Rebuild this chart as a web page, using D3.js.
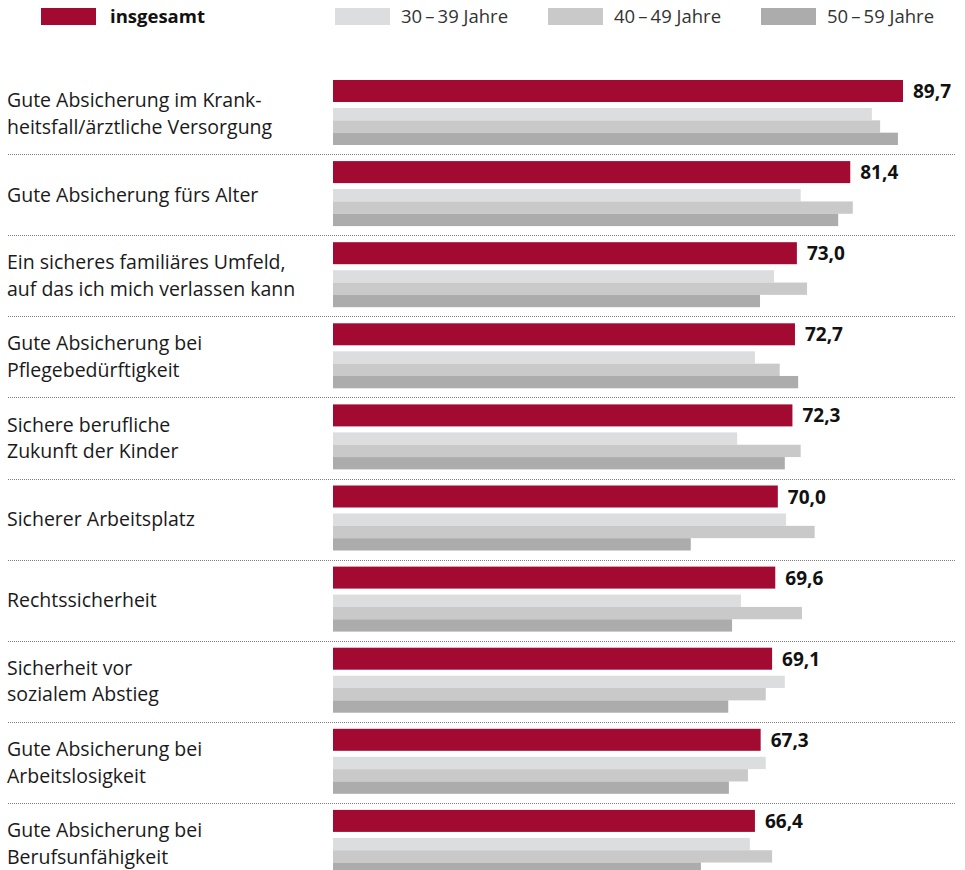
<!DOCTYPE html>
<html lang="de">
<head>
<meta charset="UTF-8">
<title>Absicherung</title>
<script src="https://cdn.jsdelivr.net/npm/d3@7"></script>
<style>
	body { margin: 0; background: #fff; font-family: "Open Sans", sans-serif; }
	.label { font-size: 19.5px; fill: #1a1a1a }
	.value { font-size: 19px; font-weight: bold; fill: #111 }
	.legend text { font-size: 18.5px; fill: #333 }
	.sep { stroke: #808080; stroke-width: 1px; stroke-dasharray: 1,1 }
</style>
</head>
<body>
<script>

var categories = [
	'Gute Absicherung im Krank-\nheitsfall/ärztliche Versorgung',
	'Gute Absicherung fürs Alter',
	'Ein sicheres familiäres Umfeld,\nauf das ich mich verlassen kann',
	'Gute Absicherung bei\nPflegebedürftigkeit',
	'Sichere berufliche\nZukunft der Kinder',
	'Sicherer Arbeitsplatz',
	'Rechtssicherheit',
	'Sicherheit vor\nsozialem Abstieg',
	'Gute Absicherung bei\nArbeitslosigkeit',
	'Gute Absicherung bei\nBerufsunfähigkeit'
];
var total   = [89.7, 81.4, 73.0, 72.7, 72.3, 70.0, 69.6, 69.1, 67.3, 66.4];
var age3039 = [84.8, 73.6, 69.4, 66.4, 63.6, 71.3, 64.2, 71.1, 68.1, 65.6];
var age4049 = [86.1, 81.8, 74.6, 70.3, 73.6, 75.8, 73.8, 68.1, 65.3, 69.1];
var age5059 = [88.9, 79.5, 67.2, 73.2, 71.1, 56.3, 62.8, 62.2, 62.3, 57.9];
var groups = ['30\u2009–\u200939 Jahre', '40\u2009–\u200949 Jahre', '50\u2009–\u200959 Jahre'];
var legendLabels = ['insgesamt'].concat(groups);

var red = '#a30a32';
var grays = ['#dcdddf', '#c9c9c9', '#acacac'];

var width = 965, height = 870;
var svg = d3.select('body').append('svg')
	.attr('width', width)
	.attr('height', height);

var x = d3.scaleLinear().domain([0, 89.7]).range([333, 903]);
var y = d3.scaleBand().domain(d3.range(categories.length)).range([73, 73 + 81.1 * categories.length]);
var sub = d3.scaleBand().domain(d3.range(groups.length)).range([35, 72]);
var fmt = v => d3.format('.1f')(v).replace('.', ',');

var rows = categories.map((c, i) => ({
	label: c, total: total[i], ages: [age3039[i], age4049[i], age5059[i]], i: i
}));

// separators
svg.selectAll('.sep')
	.data(rows.filter(d => d.i > 0))
	.enter().append('line')
	.attr('class', 'sep')
	.attr('x1', 8).attr('x2', 956)
	.attr('y1', d => Math.round(y(d.i)) + 0.5)
	.attr('y2', d => Math.round(y(d.i)) + 0.5);

var row = svg.selectAll('.row')
	.data(rows)
	.enter().append('g')
	.attr('class', 'row')
	.attr('transform', d => 'translate(0,' + y(d.i) + ')');

row.append('rect')
	.attr('x', x(0))
	.attr('y', 7)
	.attr('height', 22)
	.attr('width', d => x(d.total) - x(0))
	.style('fill', red);

row.selectAll('.age')
	.data(d => d.ages)
	.enter().append('rect')
	.attr('class', 'age')
	.attr('x', x(0))
	.attr('y', (v, j) => sub(j))
	.attr('height', sub.bandwidth())
	.attr('width', v => x(v) - x(0))
	.style('fill', (v, j) => grays[j]);

row.append('text')
	.attr('class', 'value')
	.attr('x', d => x(d.total) + 10)
	.attr('y', 25)
	.text(d => fmt(d.total));

// category labels, centred on the bar group
row.each(function(d) {
	var lines = d.label.split('\n');
	var mid = 40 + 7.5;
	var t = d3.select(this).append('text').attr('class', 'label');
	lines.forEach((l, k) => {
		t.append('tspan')
			.attr('x', 7)
			.attr('y', mid + (k - (lines.length - 1) / 2) * 26.6)
			.text(l);
	});
});

// legend
var legendX = [41, 335, 548, 761];
var legend = svg.selectAll('.legend')
	.data(legendLabels)
	.enter().append('g')
	.attr('class', 'legend')
	.attr('transform', (d, i) => 'translate(' + legendX[i] + ',8)');

legend.append('rect')
	.attr('width', 55)
	.attr('height', 17)
	.style('fill', (d, i) => i === 0 ? red : grays[i - 1]);

legend.append('text')
	.attr('x', (d, i) => i === 0 ? 69 : 66)
	.attr('y', 15)
	.style('font-weight', (d, i) => i === 0 ? 'bold' : 'normal')
	.style('fill', (d, i) => i === 0 ? '#111' : '#333')
	.text(d => d);

</script>
</body>
</html>
